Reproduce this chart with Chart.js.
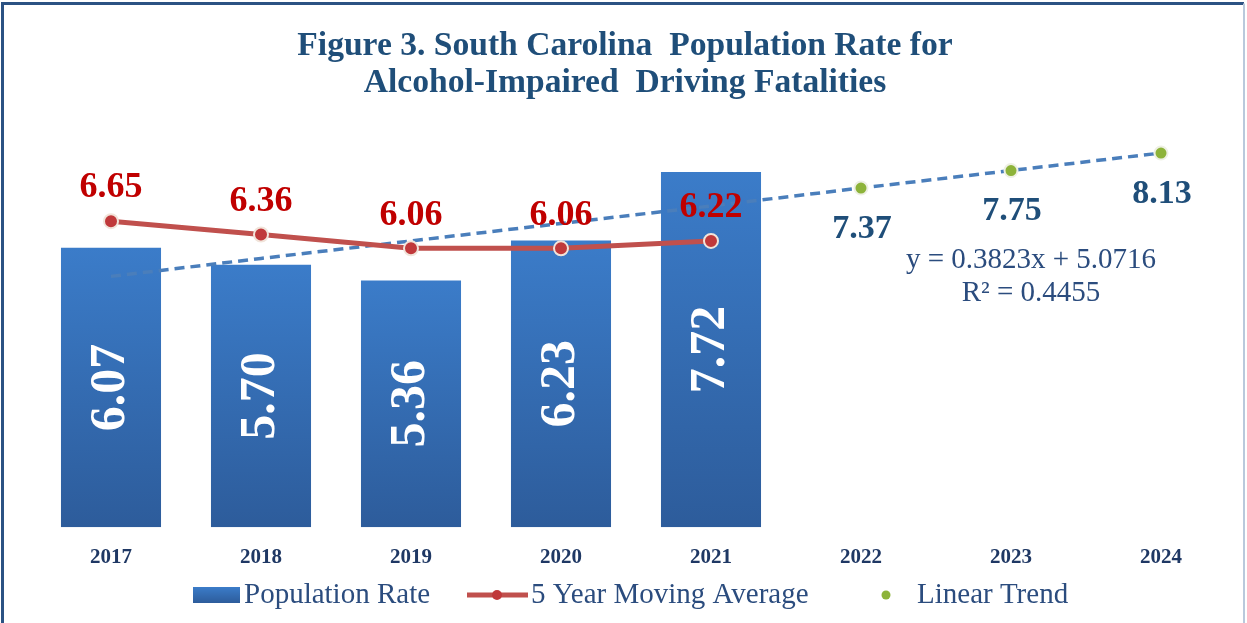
<!DOCTYPE html>
<html>
<head>
<meta charset="utf-8">
<script src="https://cdn.jsdelivr.net/npm/chart.js"></script>
<style>
  body { margin: 0; background: #fff; }
  #wrap { position: relative; width: 1247px; height: 623px; }
</style>
</head>
<body>
<div id="wrap"><canvas id="myChart" width="1247" height="623"></canvas></div>
<script>
'use strict';

// chart data
let years = ['2017', '2018', '2019', '2020', '2021', '2022', '2023', '2024'];
let populationRate = [6.07, 5.70, 5.36, 6.23, 7.72, null, null, null];
let movingAverage = [6.65, 6.36, 6.06, 6.06, 6.22, null, null, null];
let trendLine = [5.45, 5.84, 6.22, 6.60, 6.98, 7.37, 7.75, 8.13];
let trendPoints = [null, null, null, null, null, 7.37, 7.75, 8.13];
let titleLines = ['Figure 3. South Carolina  Population Rate for', 'Alcohol-Impaired  Driving Fatalities'];
let equationLines = ['y = 0.3823x + 5.0716', 'R\u00b2 = 0.4455'];

const serif = '"Liberation Serif", "Times New Roman", serif';

// per bar gradient, lighter at the top
function barGradient(context){
  let chart = context.chart;
  if(!chart.chartArea || context.raw === null || context.raw === undefined){
    return '#3672bb';
  }
  let yScale = chart.scales.y;
  let top = yScale.getPixelForValue(context.raw);
  let bottom = yScale.getPixelForValue(0);
  let g = chart.ctx.createLinearGradient(0, top, 0, bottom);
  g.addColorStop(0, '#3b7cc9');
  g.addColorStop(1, '#2d5c9b');
  return g;
}

const framePlugin = {
  id: 'frame',
  beforeDraw(chart){
    let ctx = chart.ctx;
    ctx.save();
    ctx.fillStyle = '#fff';
    ctx.fillRect(0, 0, chart.width, chart.height);
    ctx.strokeStyle = '#2b5283';
    ctx.lineWidth = 3;
    ctx.beginPath();
    ctx.moveTo(2.5, chart.height);
    ctx.lineTo(2.5, 3.5);
    ctx.lineTo(1244, 3.5);
    ctx.stroke();
    ctx.strokeStyle = '#b9c9dc';
    ctx.lineWidth = 2;
    ctx.beginPath();
    ctx.moveTo(1244, 3.5);
    ctx.lineTo(1244, chart.height);
    ctx.stroke();

    // title
    ctx.fillStyle = '#1f4e79';
    ctx.font = 'bold 33.6px ' + serif;
    ctx.textAlign = 'center';
    ctx.textBaseline = 'middle';
    ctx.fillText(titleLines[0], 625, 46);
    ctx.fillText(titleLines[1], 625, 83);
    ctx.restore();
  }
};

const labelPlugin = {
  id: 'labels',
  afterDatasetsDraw(chart){
    let ctx = chart.ctx;
    let yScale = chart.scales.y;
    ctx.save();
    ctx.textAlign = 'center';
    ctx.textBaseline = 'middle';

    // bar values, rotated
    let barMeta = chart.getDatasetMeta(0);
    barMeta.data.forEach(function(bar, i){
      if(populationRate[i] === null) return;
      let midY = (bar.y + yScale.getPixelForValue(0)) / 2;
      ctx.save();
      ctx.translate(bar.x, midY);
      ctx.rotate(-Math.PI / 2);
      ctx.fillStyle = '#fff';
      ctx.font = 'bold 50px ' + serif;
      ctx.fillText(populationRate[i].toFixed(2), 0, 0);
      ctx.restore();
    });

    // moving average values
    let maMeta = chart.getDatasetMeta(1);
    ctx.fillStyle = '#c00000';
    ctx.font = 'bold 36px ' + serif;
    maMeta.data.forEach(function(pt, i){
      if(movingAverage[i] === null) return;
      ctx.fillText(movingAverage[i].toFixed(2), pt.x, pt.y - 33);
    });

    // trend values
    let trMeta = chart.getDatasetMeta(3);
    ctx.fillStyle = '#1f4e79';
    ctx.font = 'bold 34px ' + serif;
    trMeta.data.forEach(function(pt, i){
      if(trendPoints[i] === null) return;
      ctx.fillText(trendPoints[i].toFixed(2), pt.x + 1, pt.y + 41);
    });

    // equation
    ctx.fillStyle = '#2b4c7e';
    ctx.font = '29px ' + serif;
    ctx.fillText(equationLines[0], 1031, 260);
    ctx.fillText(equationLines[1], 1031, 293);
    ctx.restore();
  }
};

const legendPlugin = {
  id: 'customLegend',
  afterDraw(chart){
    let ctx = chart.ctx;
    let y = 595;
    ctx.save();
    ctx.textBaseline = 'middle';
    ctx.textAlign = 'left';
    ctx.font = '29px ' + serif;
    ctx.fillStyle = '#2b4c7e';

    // bar swatch
    let g = ctx.createLinearGradient(0, y - 8, 0, y + 8);
    g.addColorStop(0, '#3b7cc9');
    g.addColorStop(1, '#2d5c9b');
    ctx.fillStyle = g;
    ctx.fillRect(193, y - 8, 47, 16);
    ctx.fillStyle = '#2b4c7e';
    ctx.fillText('Population Rate', 244, y);

    // line swatch
    ctx.strokeStyle = '#c0504d';
    ctx.lineWidth = 5;
    ctx.beginPath();
    ctx.moveTo(467, y);
    ctx.lineTo(528, y);
    ctx.stroke();
    ctx.fillStyle = '#c0393b';
    ctx.beginPath();
    ctx.arc(497, y, 5, 0, Math.PI * 2);
    ctx.fill();
    ctx.fillStyle = '#2b4c7e';
    ctx.fillText('5 Year Moving Average', 531, y);

    // dot swatch
    ctx.fillStyle = '#8db33a';
    ctx.beginPath();
    ctx.arc(886, y, 4.5, 0, Math.PI * 2);
    ctx.fill();
    ctx.fillStyle = '#2b4c7e';
    ctx.fillText('Linear Trend', 917, y);
    ctx.restore();
  }
};

const ctx = document.getElementById('myChart');

new Chart(ctx, {
  type: 'bar',
  data: {
    labels: years,
    datasets: [{
      label: 'Population Rate',
      data: populationRate,
      backgroundColor: barGradient,
      barPercentage: 0.667,
      categoryPercentage: 1,
      order: 3
    },
    {
      type: 'line',
      label: '5 Year Moving Average',
      data: movingAverage,
      borderColor: '#c0504d',
      borderWidth: 5,
      pointRadius: 7,
      pointBackgroundColor: '#c0393b',
      pointBorderColor: '#f1e4da',
      pointBorderWidth: 2,
      spanGaps: false,
      order: 1
    },
    {
      type: 'line',
      label: 'trend line',
      data: trendLine,
      borderColor: '#4a7ebb',
      borderWidth: 3.5,
      borderDash: [10, 6],
      pointRadius: 0,
      order: 2
    },
    {
      type: 'line',
      label: 'Linear Trend',
      data: trendPoints,
      showLine: false,
      pointRadius: 6.5,
      pointBackgroundColor: '#8db33a',
      pointBorderColor: '#eef0e4',
      pointBorderWidth: 2,
      order: 0
    }
    ]
  },
  options: {
    responsive: false,
    animation: false,
    layout: {
      padding: { left: 36, right: 11, top: 113, bottom: 42.6 }
    },
    plugins: {
      legend: { display: false },
      title: { display: false },
      tooltip: { enabled: false }
    },
    scales: {
      x: {
        grid: { display: false },
        border: { display: false },
        ticks: {
          padding: 10,
          color: '#1f3864',
          font: { family: serif, size: 21, weight: 'bold' }
        }
      },
      y: {
        display: false,
        min: 0,
        max: 9
      }
    }
  },
  plugins: [framePlugin, labelPlugin, legendPlugin]
});
</script>
</body>
</html>
